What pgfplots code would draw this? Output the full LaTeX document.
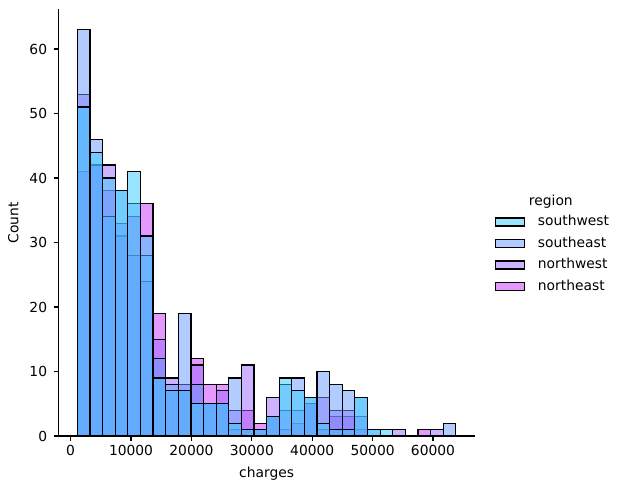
\documentclass[border=0pt]{standalone}
\usepackage{pgfplots}
\pgfplotsset{compat=1.18}
\usepackage{pgfplotstable}
\usepackage{fontspec}
\setmainfont{DejaVu Sans}

\definecolor{csw}{rgb}{0.2,0.8,1}
\definecolor{cse}{rgb}{0.4,0.6,1}
\definecolor{cnw}{rgb}{0.6,0.4,1}
\definecolor{cne}{rgb}{0.8,0.2,1}

% bin left edges, counts per region (last row closes the last bin)
\pgfplotstableread{
x        sw  se  nw  ne
1121.87  51  63  53  41
3210.16  44  46  42  42
5298.44  40  34  42  38
7386.73  38  38  33  31
9475.01  41  36  28  34
11563.30 31  28  24  36
13651.58  9  12  15  19
15739.87  7   8   9   7
17828.15  7  19   8   7
19916.44  5   8  11  12
22004.72  5   5   5   8
24093.01  5   5   7   8
26181.29  2   9   4   1
28269.58  1   1  11   4
30357.87  1   1   1   2
32446.15  3   3   6   3
34534.44  9   8   4   1
36622.72  7   9   4   2
38711.01  6   6   5   5
40799.29  2  10   6   1
42887.58  1   8   4   3
44975.86  1   7   4   3
47064.15  6   6   3   1
49152.43  1   1   0   0
51240.72  1   0   0   0
53329.00  0   0   1   0
55417.29  0   0   0   0
57505.57  0   0   0   1
59593.86  0   0   1   0
61682.14  0   2   0   0
63770.43  0   0   0   0
}\charges

\begin{document}
\begin{tikzpicture}
\useasboundingbox (-58.5bp,-53bp) rectangle (560.5bp,436bp);
\begin{axis}[
    at={(0,0)}, anchor=south west,
    scale only axis,
    width=416.2bp, height=426.7bp,
    xmin=-2010, xmax=66903,
    ymin=0, ymax=66.15,
    axis x line*=bottom, axis y line*=left,
    axis line style={-, line width=1.1bp},
    tick align=outside,
    major tick length=4.9bp,
    tick style={black, line width=1.1bp},
    xtick={0,10000,...,60000},
    ytick={0,10,...,60},
    scaled x ticks=false,
    /pgf/number format/1000 sep={},
    /pgf/number format/assume math mode=true,
    font=\fontsize{13.9}{16.7}\selectfont,
    yticklabel style={xshift=-3bp},
    xticklabel style={yshift=-1bp},
    xlabel={charges}, ylabel={Count},
    xlabel style={yshift=-4bp},
    ylabel style={yshift=4bp},
    clip=false,
    legend image code/.code={\draw[#1] (0bp,-4bp) rectangle (29bp,4bp);},
    legend style={at={(1.049,0.426)}, anchor=west, draw=none, fill=none,
        inner sep=0pt, row sep=8bp, column sep=12.4bp,
        nodes={inner sep=0pt, text height=10.5bp, text depth=3bp}},
    legend cell align=left,
]
\addplot[ybar interval, fill=cne, fill opacity=0.5, draw=black, line width=1.2bp, forget plot] table[x=x, y=ne]{\charges};
\addplot[ybar interval, fill=cnw, fill opacity=0.5, draw=black, line width=1.2bp, forget plot] table[x=x, y=nw]{\charges};
\addplot[ybar interval, fill=cse, fill opacity=0.5, draw=black, line width=1.2bp, forget plot] table[x=x, y=se]{\charges};
\addplot[ybar interval, fill=csw, fill opacity=0.5, draw=black, line width=1.2bp, forget plot] table[x=x, y=sw]{\charges};

\addlegendimage{fill=csw, fill opacity=0.5, draw=black, line width=1.2bp}
\addlegendentry{southwest}
\addlegendimage{fill=cse, fill opacity=0.5, draw=black, line width=1.2bp}
\addlegendentry{southeast}
\addlegendimage{fill=cnw, fill opacity=0.5, draw=black, line width=1.2bp}
\addlegendentry{northwest}
\addlegendimage{fill=cne, fill opacity=0.5, draw=black, line width=1.2bp}
\addlegendentry{northeast}

\node at (axis description cs:1.183,0.548) {region};
\end{axis}
\end{tikzpicture}
\end{document}
